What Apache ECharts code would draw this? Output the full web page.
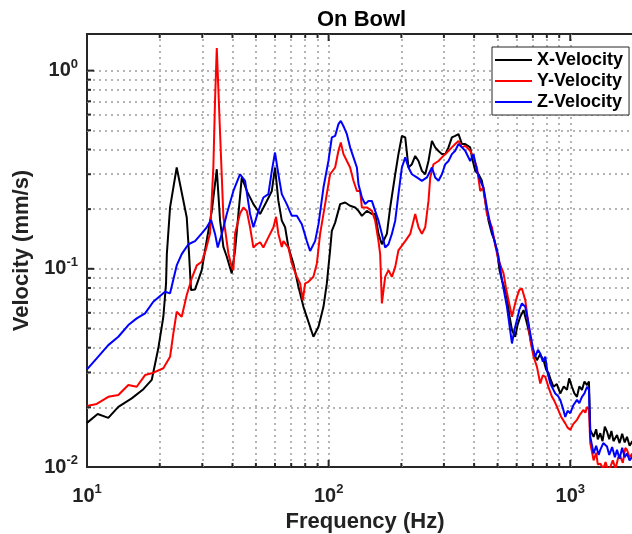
<!DOCTYPE html>
<html><head><meta charset="utf-8">
<script src="https://cdn.jsdelivr.net/npm/echarts@6/dist/echarts.min.js"></script>
<style>html,body{margin:0;padding:0;background:#fff}#c{width:632px;height:534px}</style>
</head><body><div id="c"></div>
<script>
const chartTitle = 'On Bowl';
const seriesNames = ['X-Velocity', 'Y-Velocity', 'Z-Velocity'];
const seriesColors = ['#000000', '#ff0000', '#0000ff'];

// [frequency (Hz), velocity (mm/s)]
const xVelocity = [[10,0.0167],[11.07,0.0185],[12.25,0.0177],[13.48,0.0201],[15.31,0.0222],[17.11,0.0247],[18.53,0.0275],[19.73,0.0397],[20.7,0.0573],[21.24,0.0844],[21.4,0.1186],[22.07,0.204],[23.51,0.3245],[25.87,0.1816],[26.45,0.1186],[26.95,0.0781],[28.0,0.0787],[29.85,0.0985],[30.8,0.124],[32.85,0.196],[34.44,0.318],[35.54,0.175],[36.68,0.129],[37.89,0.115],[39.72,0.0948],[41.0,0.124],[43.71,0.289],[46.0,0.245],[48.83,0.212],[52.05,0.189],[55.5,0.22],[58.2,0.247],[60.0,0.3245],[61.95,0.22],[64.0,0.175],[66.06,0.162],[68.2,0.128],[71.5,0.106],[75.0,0.0811],[78.66,0.0643],[82.5,0.054],[86.5,0.0454],[90.8,0.051],[95.2,0.0643],[98.3,0.0844],[101.4,0.124],[103.1,0.1555],[106.4,0.171],[111.6,0.212],[117.0,0.216],[122.7,0.208],[128.8,0.204],[132.9,0.196],[137.3,0.185],[143.9,0.196],[151.0,0.189],[155.8,0.189],[160.8,0.15],[166.1,0.133],[174.2,0.15],[179.8,0.204],[188.6,0.3],[194.5,0.379],[201.0,0.468],[207.5,0.46],[214.0,0.3245],[221.1,0.337],[228.2,0.371],[235.5,0.35],[243.2,0.312],[251.0,0.3],[259.0,0.35],[267.6,0.442],[276.1,0.41],[284.9,0.393],[294.3,0.379],[303.8,0.379],[313.4,0.41],[323.7,0.46],[334.1,0.468],[344.8,0.478],[356.2,0.426],[367.5,0.426],[385.4,0.41],[391.7,0.365],[404.3,0.312],[417.2,0.3],[430.9,0.278],[444.6,0.22],[458.9,0.175],[474.1,0.15],[485,0.14],[497.3,0.124],[510,0.098],[521.5,0.0877],[535,0.08],[547.0,0.0722],[560,0.058],[573.8,0.0491],[591.9,0.0454],[605,0.052],[620.9,0.0573],[640.8,0.0619],[662.0,0.053],[680,0.046],[694.2,0.0404],[710,0.037],[728.1,0.0346],[750,0.037],[775.4,0.0346],[795,0.031],[813.2,0.0297],[835,0.027],[852.8,0.0254],[880,0.0262],[909,0.0235],[940,0.0255],[969,0.0245],[990,0.028],[1016,0.0254],[1040,0.0235],[1066,0.0226],[1090,0.0255],[1118,0.0245],[1145,0.027],[1173,0.0259],[1195,0.027],[1210,0.0154],[1249,0.0142],[1280,0.0155],[1300,0.0138],[1331,0.0148],[1360,0.0135],[1390,0.016],[1419,0.0151],[1450,0.0138],[1480,0.0152],[1510,0.0135],[1561,0.0145],[1600,0.0132],[1640,0.0147],[1680,0.0133],[1717,0.0142],[1760,0.0128],[1806,0.0135],[1850,0.0127],[1900,0.0133],[1950,0.0125],[2000,0.013]];

const yVelocity = [[10,0.0203],[10.97,0.0208],[12.25,0.0226],[13.48,0.0231],[14.83,0.0259],[16.06,0.0254],[17.39,0.0291],[18.53,0.0297],[20.7,0.0315],[22.07,0.036],[22.77,0.0472],[23.51,0.0607],[24.66,0.0573],[25.87,0.0737],[27.13,0.0894],[28.46,0.104],[29.85,0.1085],[31.0,0.124],[32.31,0.151],[33.34,0.327],[33.88,0.709],[34.44,1.30],[35.54,0.483],[36.68,0.183],[38.47,0.1196],[39.72,0.102],[40.35,0.0985],[41.0,0.151],[43.0,0.19],[44.38,0.204],[45.84,0.196],[47.3,0.162],[48.83,0.128],[50.43,0.133],[52.05,0.136],[53.7,0.128],[56.3,0.144],[59.1,0.162],[60.6,0.183],[61.95,0.15],[64.0,0.129],[65.0,0.138],[68.2,0.128],[70.4,0.1065],[73.85,0.0911],[76.2,0.0844],[78.2,0.0695],[79.94,0.0844],[82.5,0.086],[86.5,0.0911],[89.4,0.1065],[92.2,0.15],[96.7,0.212],[101.4,0.3],[106.4,0.3245],[109.8,0.394],[112.3,0.434],[115.2,0.379],[119.0,0.35],[122.7,0.3245],[126.7,0.278],[130.9,0.247],[135.0,0.247],[137.3,0.204],[143.9,0.204],[151.0,0.196],[155.8,0.175],[160.8,0.138],[163.4,0.1186],[166.1,0.0669],[171.4,0.0911],[176.9,0.0985],[182.7,0.0911],[188.6,0.102],[194.5,0.124],[207.5,0.138],[217.6,0.15],[228.2,0.189],[235.5,0.162],[243.2,0.15],[251.0,0.162],[259.0,0.22],[263.3,0.289],[271.6,0.337],[284.9,0.35],[294.3,0.365],[308.7,0.386],[323.7,0.41],[334.1,0.426],[344.8,0.442],[356.2,0.41],[367.5,0.417],[385.4,0.394],[397.8,0.365],[410.9,0.3245],[424.0,0.247],[437.5,0.257],[451.9,0.189],[474.1,0.162],[490,0.13],[504.9,0.1107],[529.5,0.0948],[542,0.08],[555.3,0.0695],[573.8,0.0573],[590,0.066],[601.6,0.0722],[615,0.078],[630.9,0.0796],[651.3,0.0695],[668,0.055],[683.2,0.0437],[705,0.036],[728.1,0.032],[751.3,0.0264],[770,0.029],[788.1,0.0285],[815,0.025],[840.3,0.0226],[860,0.0215],[881.3,0.0201],[915,0.018],[953.5,0.0166],[975,0.0158],[1000,0.0154],[1030,0.0165],[1066,0.0173],[1100,0.0185],[1135,0.0194],[1155,0.0188],[1173,0.0201],[1195,0.0195],[1210,0.0132],[1249,0.0108],[1280,0.0118],[1300,0.0103],[1331,0.0104],[1370,0.0098],[1400,0.0106],[1430,0.0097],[1464,0.0100],[1500,0.0108],[1540,0.0098],[1580,0.0112],[1611,0.0113],[1650,0.0105],[1690,0.0125],[1717,0.0122],[1760,0.0112],[1806,0.0117],[1850,0.0108],[1900,0.0118],[1950,0.0107],[2000,0.0115]];

const zVelocity = [[10,0.0311],[10.97,0.0353],[12.25,0.0412],[13.48,0.0454],[14.83,0.052],[16.06,0.0562],[17.39,0.0596],[18.81,0.0682],[21.04,0.0766],[22.07,0.0752],[23.51,0.104],[24.66,0.1186],[26.28,0.133],[28.0,0.138],[29.85,0.151],[31.3,0.162],[32.63,0.176],[33.88,0.15],[34.76,0.128],[36.13,0.15],[37.89,0.189],[40.35,0.247],[43.0,0.3],[45.1,0.278],[47.3,0.189],[48.83,0.162],[51.2,0.196],[53.7,0.229],[56.3,0.238],[58.2,0.312],[60.0,0.386],[61.95,0.3],[64.0,0.238],[67.1,0.212],[70.4,0.185],[73.85,0.185],[77.45,0.168],[81.23,0.138],[83.83,0.123],[87.9,0.138],[90.8,0.168],[95.2,0.257],[99.8,0.35],[103.1,0.46],[106.4,0.468],[109.8,0.537],[112.3,0.558],[115.9,0.516],[119.0,0.478],[122.7,0.41],[126.7,0.365],[130.9,0.3245],[132.9,0.267],[137.3,0.229],[141.6,0.212],[146.2,0.22],[151.0,0.22],[155.8,0.196],[160.8,0.175],[166.1,0.15],[171.4,0.128],[176.9,0.133],[182.7,0.15],[188.6,0.175],[194.5,0.238],[201.0,0.3245],[207.5,0.365],[214.0,0.3245],[221.1,0.3],[231.8,0.289],[243.2,0.278],[255.1,0.289],[267.6,0.3245],[276.1,0.289],[284.9,0.278],[294.3,0.3],[303.8,0.337],[313.4,0.35],[323.7,0.379],[334.1,0.394],[344.8,0.426],[356.2,0.41],[367.5,0.394],[385.4,0.35],[397.8,0.379],[410.9,0.312],[424.0,0.278],[437.5,0.257],[451.9,0.204],[466.5,0.168],[481.4,0.144],[504.9,0.115],[521.5,0.0877],[547.0,0.0643],[573.8,0.042],[587,0.049],[601.6,0.0551],[615,0.062],[630.9,0.0669],[651.3,0.0643],[668,0.055],[683.2,0.0472],[700,0.04],[716.1,0.036],[735,0.039],[751.3,0.0374],[770,0.034],[788.1,0.036],[805,0.03],[826.8,0.0264],[845,0.025],[866.8,0.0235],[890,0.0228],[909,0.0218],[930,0.02],[953.5,0.0179],[975,0.0192],[1000,0.0187],[1030,0.0205],[1066,0.0218],[1090,0.021],[1118,0.0226],[1145,0.0235],[1173,0.0254],[1195,0.0245],[1210,0.0142],[1249,0.0117],[1280,0.0128],[1310,0.0115],[1331,0.0122],[1370,0.0132],[1419,0.0127],[1450,0.0115],[1490,0.0126],[1530,0.0112],[1561,0.0122],[1600,0.011],[1640,0.0125],[1680,0.0112],[1717,0.0117],[1760,0.0108],[1806,0.0113],[1850,0.0122],[1900,0.0108],[1950,0.0118],[2000,0.0112]];

const xMin = 10, xMax = 2000;
const yMin = 0.01, yMax = 1.53;
const xGridValues = [20,30,40,50,60,70,80,90,100,200,300,400,500,600,700,800,900,1000];
const yGridValues = [0.02,0.03,0.04,0.05,0.06,0.07,0.08,0.09,0.1,0.2,0.3,0.4,0.5,0.6,0.7,0.8,0.9,1];

const FONT = 'Liberation Sans, Arial, Helvetica, sans-serif';
const AXC = '#262626';

function powLabel(v) {
  const l = Math.log10(v);
  const e = Math.round(l);
  if (Math.abs(l - e) > 1e-6) return '';
  return '{b|10}{s|' + e + '}';
}
const labelRich = {
  b: { fontSize: 20, fontWeight: 'bold', fontFamily: FONT, color: '#222', lineHeight: 26 },
  s: { fontSize: 13, fontWeight: 'bold', fontFamily: FONT, color: '#222', verticalAlign: 'top', lineHeight: 14 }
};

const chart = echarts.init(document.getElementById('c'), null, { renderer: 'canvas' });

const lineSeries = [xVelocity, yVelocity, zVelocity].map((d, i) => ({
  name: seriesNames[i],
  type: 'line',
  data: d,
  showSymbol: false,
  symbol: 'none',
  clip: true,
  z: 3 + i,
  lineStyle: { color: seriesColors[i], width: 2, type: 'solid' },
  itemStyle: { color: seriesColors[i] },
  emphasis: { disabled: true },
  animation: false
}));

const gridSeries = {
  name: 'grid',
  type: 'line',
  data: [],
  z: 1,
  silent: true,
  animation: false,
  markLine: {
    z: 1,
    silent: true,
    symbol: ['none', 'none'],
    label: { show: false },
    animation: false,
    emphasis: { disabled: true },
    lineStyle: { color: '#b4b4b4', width: 2, type: [2, 4] },
    data: xGridValues.map(v => ({ xAxis: v })).concat(yGridValues.map(v => ({ yAxis: v })))
  }
};

chart.setOption({
  animation: false,
  backgroundColor: '#fff',
  title: {
    text: chartTitle,
    left: 317, top: 9, padding: 0,
    textStyle: { fontFamily: FONT, fontSize: 22, fontWeight: 'bold', color: '#000' }
  },
  legend: {
    data: seriesNames,
    orient: 'vertical',
    left: 492, top: 47,
    z: 20,
    padding: [4, 6, 4, 3],
    itemGap: 3,
    itemWidth: 37, itemHeight: 2,
    icon: 'rect',
    backgroundColor: '#fff',
    borderColor: AXC, borderWidth: 1,
    borderRadius: 0,
    textStyle: { fontFamily: FONT, fontSize: 18, fontWeight: 'bold', color: '#000', lineHeight: 18 },
    selectedMode: false
  },
  grid: {
    left: 87, top: 34, right: -11, bottom: 67,
    show: true, backgroundColor: '#fff', borderColor: AXC, borderWidth: 2,
    outerBoundsMode: 'none', containLabel: false
  },
  xAxis: {
    type: 'log', logBase: 10, min: xMin, max: xMax,
    name: 'Frequency (Hz)', nameLocation: 'middle', nameGap: 41,
    nameTextStyle: { fontFamily: FONT, fontSize: 22, fontWeight: 'bold', color: '#222' },
    axisLine: { show: false },
    axisTick: { show: false },
    splitLine: { show: false },
    minorTick: { show: false }, minorSplitLine: { show: false },
    axisLabel: { margin: 16, formatter: powLabel, rich: labelRich, showMinLabel: true, showMaxLabel: true, hideOverlap: false }
  },
  yAxis: {
    type: 'log', logBase: 10, min: yMin, max: yMax,
    name: 'Velocity (mm/s)', nameLocation: 'middle', nameGap: 48,
    nameTextStyle: { fontFamily: FONT, fontSize: 22, fontWeight: 'bold', color: '#222' },
    axisLine: { show: false },
    axisTick: { show: false },
    splitLine: { show: false },
    minorTick: { show: false }, minorSplitLine: { show: false },
    axisLabel: { margin: 9, formatter: powLabel, rich: labelRich, showMinLabel: true, showMaxLabel: true, hideOverlap: false }
  },
  series: [gridSeries].concat(lineSeries)
});

// axis tick marks (inside), major and minor, placed through the axis scales
function tickValues(lo, hi) {
  const out = [];
  for (let e = Math.floor(Math.log10(lo)); e <= Math.ceil(Math.log10(hi)); e++) {
    for (let m = 1; m <= 9; m++) {
      const v = +(m * Math.pow(10, e)).toPrecision(6);
      if (v >= lo - 1e-12 && v <= hi + 1e-9) out.push({ v: v, major: m === 1 });
    }
  }
  return out;
}
const g = [];
const tickStyle = { stroke: AXC, lineWidth: 2 };
const p0 = chart.convertToPixel({ gridIndex: 0 }, [xMin, yMin]);
const p1 = chart.convertToPixel({ gridIndex: 0 }, [xMax, yMax]);
const bottomY = p0[1], topY = p1[1], leftX = p0[0], rightX = p1[0];
tickValues(xMin, xMax).forEach(t => {
  const x = chart.convertToPixel({ gridIndex: 0 }, [t.v, yMin])[0];
  const L = t.major ? 7 : 4;
  g.push({ type: 'line', silent: true, z: 10, shape: { x1: x, y1: bottomY, x2: x, y2: bottomY - L }, style: tickStyle });
  g.push({ type: 'line', silent: true, z: 10, shape: { x1: x, y1: topY, x2: x, y2: topY + L }, style: tickStyle });
});
tickValues(yMin, yMax).forEach(t => {
  const y = chart.convertToPixel({ gridIndex: 0 }, [xMin, t.v])[1];
  const L = t.major ? 7 : 4;
  g.push({ type: 'line', silent: true, z: 10, shape: { x1: leftX, y1: y, x2: leftX + L, y2: y }, style: tickStyle });
  g.push({ type: 'line', silent: true, z: 10, shape: { x1: rightX, y1: y, x2: rightX - L, y2: y }, style: tickStyle });
});
chart.setOption({ graphic: g });
</script>
</body></html>
